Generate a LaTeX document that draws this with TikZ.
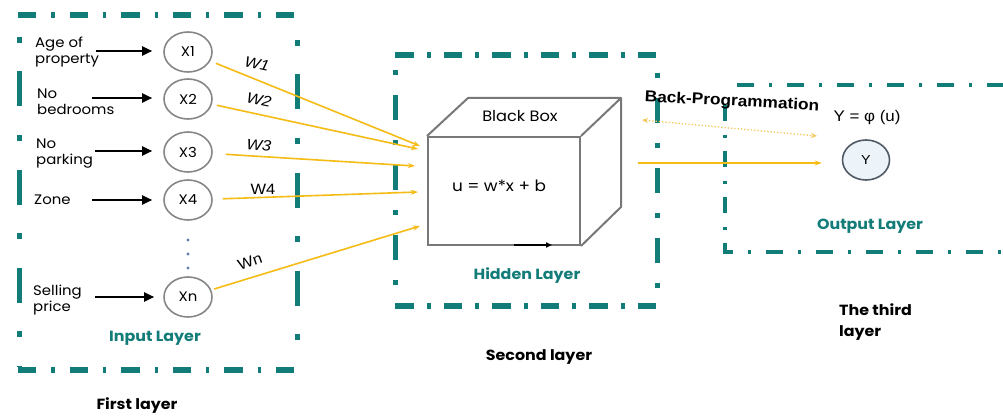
\documentclass[tikz,border=0pt]{standalone}
\usepackage{fontspec}
\setmainfont[FakeStretch=1.08]{Poppins}
\newfontfamily\arialf[FakeStretch=1.1]{Liberation Sans}
\usetikzlibrary{arrows.meta,calc,shapes.geometric}
\definecolor{tealc}{RGB}{18,124,120}
\definecolor{goldc}{RGB}{245,188,22}
\definecolor{goldl}{RGB}{245,200,90}
\definecolor{circg}{RGB}{135,135,135}
\definecolor{cubeg}{RGB}{120,120,120}
\definecolor{ybord}{RGB}{80,90,102}
\definecolor{yfill}{RGB}{236,244,250}
\definecolor{dotc}{RGB}{95,125,175}
\begin{document}
\begin{tikzpicture}[x=1pt,y=-1pt,
  lbl/.style={font=\fontsize{13.8}{16}\selectfont, align=left, inner sep=0pt},
  xnode/.style={ellipse, draw=circg, line width=1.6pt, fill=white, minimum width=48pt, minimum height=40pt, inner sep=0pt, font=\fontsize{13.8}{15}\selectfont},
  inarrow/.style={line width=2pt, -{Triangle[length=10pt,width=9pt]}, shorten >=11pt},
  warrow/.style={goldc, line width=1.6pt, -{Stealth[length=7pt,width=5pt]}},
  wlbl/.style={font=\arialf\fontsize{15}{17}\selectfont, inner sep=0pt},
  hA/.style={tealc, line width=6pt, dash pattern=on 18.3pt off 15pt on 3.3pt off 15pt},
  vA/.style={tealc, line width=5pt, dash pattern=on 6pt off 28.5pt on 35pt off 28.5pt},
  hB/.style={tealc, line width=5.5pt, dash pattern=on 18.5pt off 13pt on 4pt off 13pt},
  vB/.style={tealc, line width=5pt, dash pattern=on 5pt off 20pt on 25pt off 20pt},
  hC/.style={tealc, line width=4.5pt, dash pattern=on 16.5pt off 15.5pt on 3pt off 15pt},
  vC/.style={tealc, line width=4.5pt, dash pattern=on 16pt off 13.5pt on 3pt off 13.5pt},
  layertitle/.style={font=\bfseries\fontsize{14.7}{21}\selectfont, inner sep=0pt, align=left},
  tealtitle/.style={font=\bfseries\fontsize{14.7}{17}\selectfont, text=tealc, inner sep=0pt},
  cubeline/.style={draw=cubeg, line width=2pt}
]
\useasboundingbox[fill=white] (0,0) rectangle (1003,417);

% ---------- first layer frame ----------
\draw[hA] (18,15) -- (296,15);
\draw[hA] (18,370) -- (296,370);
\draw[vA] (19,37) -- (19,367);
\draw[vA] (297,40) -- (297,367);

% ---------- second layer frame ----------
\draw[hB] (395,55) -- (657,55);
\draw[hB] (395,306) -- (657,306);
\draw[vB] (395,70) -- (395,303);
\draw[vB] (657,73) -- (657,303);

% ---------- output frame ----------
\draw[hC] (737,85) -- (1010,85);
\draw[hC, dash phase=9pt] (725,252) -- (1010,252);
\draw[vC] (725,105) -- (725,254);

% ---------- inputs ----------
\node[lbl, anchor=west] (l1) at (35,52) {Age of\\property};
\node[lbl, anchor=west] (l2) at (37,102) {No\\bedrooms};
\node[lbl, anchor=west] (l3) at (36,154) {No\\parking};
\node[lbl, anchor=west] (l4) at (34,200) {Zone};
\node[lbl, anchor=west] (l5) at (33,300) {Selling\\price};

\node[xnode] (x1) at (188,52) {X1};
\node[xnode] (x2) at (188,99) {X2};
\node[xnode] (x3) at (188,152) {X3};
\node[xnode] (x4) at (188,200) {X4};
\node[xnode] (xn) at (188,297) {Xn};

\coordinate (s1) at (96,51);
\coordinate (s2) at (92,98);
\coordinate (s3) at (95,151);
\coordinate (s4) at (92,200);
\coordinate (s5) at (95,297);
\draw[inarrow] (s1) -- (s1 -| x1.west);
\draw[inarrow] (s2) -- (s2 -| x2.west);
\draw[inarrow] (s3) -- (s3 -| x3.west);
\draw[inarrow] (s4) -- (s4 -| x4.west);
\draw[inarrow, shorten >=9pt] (s5) -- (s5 -| xn.west);

\foreach \yy/\nm in {240/d1,254/d2,268/d3}
  \fill[dotc] (188,\yy) circle (1.7pt) coordinate (\nm);

% ---------- black box ----------
\node[cubeline, minimum width=152pt, minimum height=108pt, inner sep=0pt] (box) at (504,191) {};
\draw[cubeline, line join=round] (box.north west) -- ++(41,-38) -- ++(153,0) coordinate (bk) -- (box.north east);
\draw[cubeline, line join=round] (bk) -- ++(0,109) -- (box.south east);
\node[font=\fontsize{15}{17}\selectfont, inner sep=0pt] (bbt) at (520,116) {Black Box};
\node[font=\fontsize{15.6}{17}\selectfont, inner sep=0pt] (eq) at (499,186) {u = w*x + b};
\coordinate (ba1) at (514,245);
\coordinate (ba2) at (552,245);
\draw[line width=1.5pt, -{Triangle[length=6pt,width=5pt]}] (ba1) -- (ba2);

% ---------- weights ----------
\coordinate (t1) at (420,146);
\coordinate (t2) at (418,149);
\coordinate (t3) at (415,166);
\coordinate (t4) at (418,192);
\coordinate (t5) at (420,226);
\draw[warrow, shorten <=6pt] (x1) -- (t1);
\draw[warrow, shorten <=5pt] (x2) -- (t2);
\draw[warrow, shorten <=13pt] (x3) -- (t3);
\draw[warrow, shorten <=10pt] (x4) -- (t4);
\draw[warrow, shorten <=3pt] (xn) -- (t5);

\node[wlbl, rotate=-12] (w1) at (257,64) {\itshape W1};
\node[wlbl, rotate=-12] (w2) at (259,100) {\itshape W2};
\node[wlbl, rotate=-5] (w3) at (259,145) {\itshape W3};
\node[wlbl] (w4) at (263,189) {W4};
\node[wlbl, rotate=19] (wn) at (250,262) {Wn};

% ---------- output ----------
\node[ellipse, draw=ybord, fill=yfill, line width=1.6pt, minimum width=47pt, minimum height=40pt, inner sep=0pt, font=\arialf\fontsize{13}{15}\selectfont] (y) at (866,160) {Y};
\node[font=\arialf\fontsize{15.4}{17}\selectfont, inner sep=0pt] (phi) at (867,118) {Y = φ (u)};
\coordinate (o1) at (638,163);
\draw[goldc, line width=1.5pt, -{Stealth[length=7pt,width=5pt]}, shorten >=20pt] (o1) -- (o1 -| y.west);
\coordinate (bp1) at (642,120);
\coordinate (bp2) at (817,136);
\draw[goldl, line width=1.3pt, dotted, {Stealth[length=6pt,width=5pt]}-{Stealth[length=6pt,width=5pt]}] (bp1) -- (bp2);
\node[font=\arialf\bfseries\fontsize{15.7}{17}\selectfont, inner sep=0pt, rotate=-3] (bp) at (732,102) {Back-Programmation};

% ---------- titles ----------
\node[tealtitle] (il) at (155,338) {Input Layer};
\node[tealtitle] (hl) at (527,276) {Hidden Layer};
\node[tealtitle] (ol) at (870,226) {Output Layer};
\node[layertitle] (fl) at (137,406) {First layer};
\node[layertitle] (sl) at (539,357) {Second layer};
\node[layertitle, anchor=west] (tl) at (839,322) {The third\\layer};
\end{tikzpicture}
\end{document}
